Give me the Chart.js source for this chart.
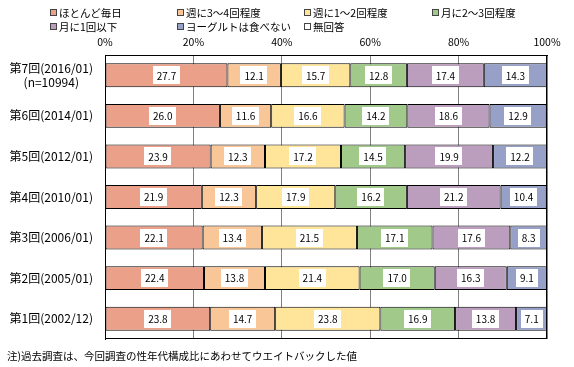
<!DOCTYPE html>
<html lang="ja">
<head>
<meta charset="UTF-8">
<title>ヨーグルトの摂取頻度</title>
<script src="https://cdn.jsdelivr.net/npm/chart.js"></script>
<style>
  html, body { margin: 0; padding: 0; background: #fff; }
  body { width: 574px; height: 367px; position: relative; overflow: hidden;
         font-family: "Noto Sans CJK JP", sans-serif; color: #000; }
  #wrap { position: absolute; left: 0; top: 0; width: 574px; height: 367px; }
  .legend-item { position: absolute; font-size: 10.5px; line-height: 12px; white-space: nowrap; }
  .legend-item i { display: inline-block; width: 5px; height: 5px; border: 1px solid #444;
                   margin-right: 2px; vertical-align: 1px; }
  #note { position: absolute; left: 7px; top: 349px; font-size: 10.5px; line-height: 13px; white-space: nowrap; }
</style>
</head>
<body>
<div id="wrap"><canvas id="chart" width="574" height="367"></canvas></div>
<div id="legend"></div>
<div id="note">注)過去調査は、今回調査の性年代構成比にあわせてウエイトバックした値</div>

<script>
// 調査回
const rounds = [
  ['第7回(2016/01)', '(n=10994)'],
  '第6回(2014/01)',
  '第5回(2012/01)',
  '第4回(2010/01)',
  '第3回(2006/01)',
  '第2回(2005/01)',
  '第1回(2002/12)'
];
const seriesNames = ['ほとんど毎日', '週に3～4回程度', '週に1～2回程度', '月に2～3回程度', '月に1回以下', 'ヨーグルトは食べない', '無回答'];
const seriesColors = ['#EBA08A', '#F9C797', '#FEE599', '#A0C98A', '#BB9DBD', '#97A1C7', '#FFFFFF'];

// 値 (%)
const everyDay   = [27.7, 26.0, 23.9, 21.9, 22.1, 22.4, 23.8];
const week34     = [12.1, 11.6, 12.3, 12.3, 13.4, 13.8, 14.7];
const week12     = [15.7, 16.6, 17.2, 17.9, 21.5, 21.4, 23.8];
const month23    = [12.8, 14.2, 14.5, 16.2, 17.1, 17.0, 16.9];
const monthLess1 = [17.4, 18.6, 19.9, 21.2, 17.6, 16.3, 13.8];
const never      = [14.3, 12.9, 12.2, 10.4, 8.3, 9.1, 7.1];
const noAnswer   = [0, 0, 0, 0, 0, 0, 0];

const xTicks = [0, 20, 40, 60, 80, 100];

const seriesValues = [everyDay, week34, week12, month23, monthLess1, never, noAnswer];

// 凡例 (2段)
const legendPos = [[50, 13], [177, 13], [304, 13], [432, 13], [50, 27], [177, 27], [304, 27]];
const legendEl = document.getElementById('legend');
seriesNames.forEach((name, i) => {
  const d = document.createElement('div');
  d.className = 'legend-item';
  d.style.left = legendPos[i][0] + 'px';
  d.style.top = (legendPos[i][1] - 6) + 'px';
  d.innerHTML = '<i style="background:' + seriesColors[i] + '"></i>' + name;
  legendEl.appendChild(d);
});

const FONT = '"Noto Sans CJK JP", sans-serif';

// 値ラベル (白い箱)
const valueLabels = {
  id: 'valueLabels',
  afterDatasetsDraw(chart) {
    const ctx = chart.ctx;
    ctx.save();
    ctx.font = '10px ' + FONT;
    ctx.textAlign = 'center';
    ctx.textBaseline = 'middle';
    chart.data.datasets.forEach((ds, i) => {
      const meta = chart.getDatasetMeta(i);
      meta.data.forEach((el, j) => {
        const v = ds.data[j];
        if (!v) return;
        const txt = v.toFixed(1);
        const cx = (el.x + el.base) / 2;
        const w = ctx.measureText(txt).width + 8;
        ctx.fillStyle = '#fff';
        ctx.fillRect(Math.round(cx - w / 2), Math.round(el.y - 9), Math.round(w), 18);
        ctx.fillStyle = '#000';
        ctx.fillText(txt, cx, el.y + 0.5);
      });
    });
    ctx.restore();
  }
};

// 枠線
const frame = {
  id: 'frame',
  afterDraw(chart) {
    const a = chart.chartArea;
    const ctx = chart.ctx;
    ctx.save();
    ctx.strokeStyle = '#000';
    ctx.lineWidth = 1;
    ctx.strokeRect(Math.round(a.left) + 0.5, Math.round(a.top) + 0.5,
                   Math.round(a.right - a.left) - 1, Math.round(a.bottom - a.top) - 1);
    ctx.restore();
  }
};

new Chart(document.getElementById('chart'), {
  type: 'bar',
  data: {
    labels: rounds,
    datasets: seriesNames.map((name, i) => ({
      label: name,
      data: seriesValues[i],
      backgroundColor: seriesColors[i],
      borderColor: '#000',
      borderWidth: 1,
      borderSkipped: false,
      barPercentage: 0.59,
      categoryPercentage: 1
    }))
  },
  options: {
    indexAxis: 'y',
    responsive: false,
    animation: false,
    events: [],
    layout: { padding: { top: 0, right: 27, bottom: 28, left: 0 } },
    plugins: { legend: { display: false }, tooltip: { enabled: false } },
    scales: {
      x: {
        stacked: true,
        position: 'top',
        min: 0,
        max: 100,
        afterBuildTicks(scale) { scale.ticks = xTicks.map(v => ({ value: v })); },
        afterFit(scale) { scale.height = 55; },
        ticks: {
          padding: 7,
          color: '#000',
          font: { family: FONT, size: 10.5 },
          callback: v => v + '%'
        },
        grid: {
          drawTicks: false,
          color: '#808080',
          lineWidth: 1
        },
        border: { color: '#000' }
      },
      y: {
        stacked: true,
        afterFit(scale) { scale.width = 105; },
        ticks: {
          crossAlign: 'center',
          padding: 12,
          color: '#000',
          font: { family: FONT, size: 12 }
        },
        grid: { display: false, drawTicks: false },
        border: { color: '#000' }
      }
    }
  },
  plugins: [valueLabels, frame]
});
</script>
</body>
</html>
